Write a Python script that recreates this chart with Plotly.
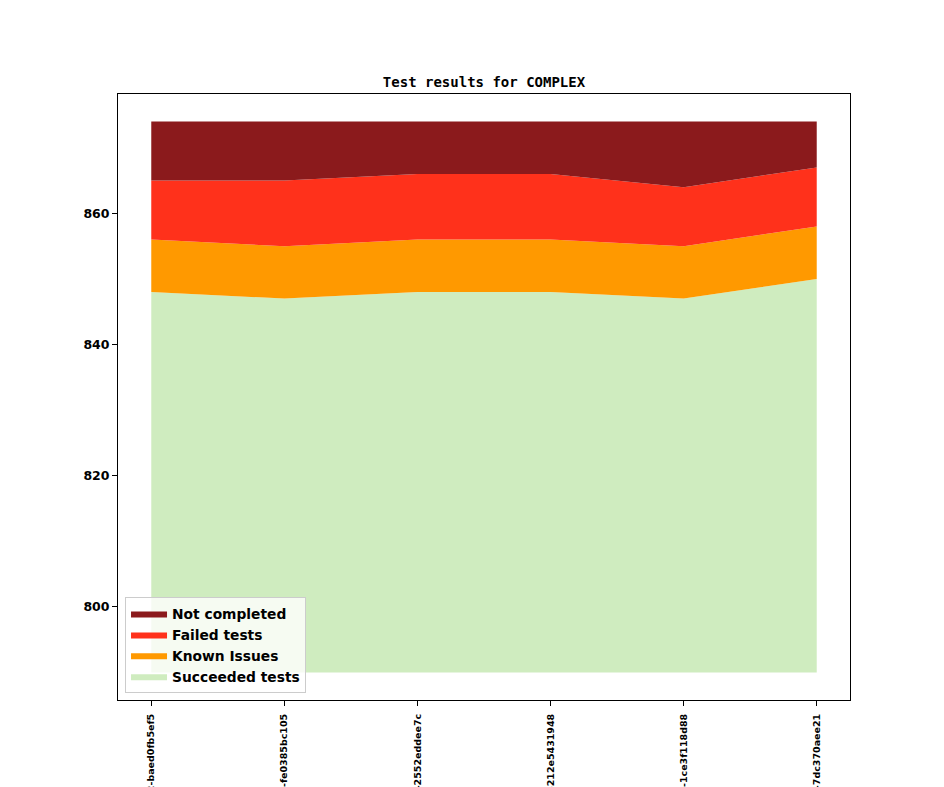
import plotly.graph_objects as go

# commit labels (long names, only the tail is visible in the figure)
commits = ['7.4.1-12-baed0fb5ef5', '7.4.1-13-fe0385bc105', '7.4.1-14-2552eddee7c',
           '7.4.1-15-212e5431948', '7.4.1-16-1ce3f118d88', '7.4.1-17-7dc370aee21']

baseline = [790, 790, 790, 790, 790, 790]
succeeded = [58, 57, 58, 58, 57, 60]
known_issues = [8, 8, 8, 8, 8, 8]
failed = [9, 10, 10, 10, 9, 9]
not_completed = [9, 9, 8, 8, 10, 7]

series = [
    ('Succeeded tests', succeeded, '#cfecbf'),
    ('Known Issues', known_issues, '#ff9900'),
    ('Failed tests', failed, '#ff311b'),
    ('Not completed', not_completed, '#8b1a1c'),
]

fig = go.Figure()

# invisible base so the stack starts at 790
fig.add_trace(go.Scatter(
    x=commits, y=baseline, stackgroup='s', fill='none',
    line=dict(width=0), showlegend=False, hoverinfo='skip'
))

for name, vals, color in series:
    fig.add_trace(go.Scatter(
        x=commits, y=vals, name=name, stackgroup='s',
        mode='lines', line=dict(width=0, color=color),
        fillcolor=color
    ))

tick_font = dict(family='DejaVu Sans', size=12.5, color='black', weight='bold')

# the page body adds an 8px offset, so margins are shifted to compensate
fig.update_layout(
    width=944, height=787,
    margin=dict(l=110, r=102, t=86, b=95),
    paper_bgcolor='white', plot_bgcolor='white',
    title=dict(
        text='Test results for COMPLEX',
        font=dict(family='DejaVu Sans Mono', size=14, color='black', weight='bold'),
        x=0.5, xref='paper', xanchor='center',
        y=1, yref='paper', yanchor='bottom', pad=dict(b=7)
    ),
    legend=dict(
        x=0.0096, y=0.0116, xanchor='left', yanchor='bottom',
        traceorder='reversed', itemwidth=36,
        bgcolor='rgba(255,255,255,0.8)', bordercolor='#cccccc', borderwidth=1,
        font=dict(family='DejaVu Sans', size=13.8, color='black', weight='bold'),
        tracegroupgap=0
    ),
    showlegend=True,
)

fig.update_xaxes(
    type='category', range=[-0.25, 5.25],
    showline=True, linecolor='black', linewidth=1, mirror=True,
    ticks='outside', ticklen=5, tickwidth=1, tickcolor='black',
    tickangle=-90, ticklabelstandoff=4,
    tickfont=dict(family='DejaVu Sans', size=9.5, color='black', weight='bold'),
    showgrid=False, zeroline=False, automargin=False
)
fig.update_yaxes(
    range=[785.8, 878.2], tickvals=[800, 820, 840, 860],
    showline=True, linecolor='black', linewidth=1, mirror=True,
    ticks='outside', ticklen=5, tickwidth=1, tickcolor='black',
    tickfont=tick_font, showgrid=False, zeroline=False, automargin=False
)

fig.write_html("out.html")
